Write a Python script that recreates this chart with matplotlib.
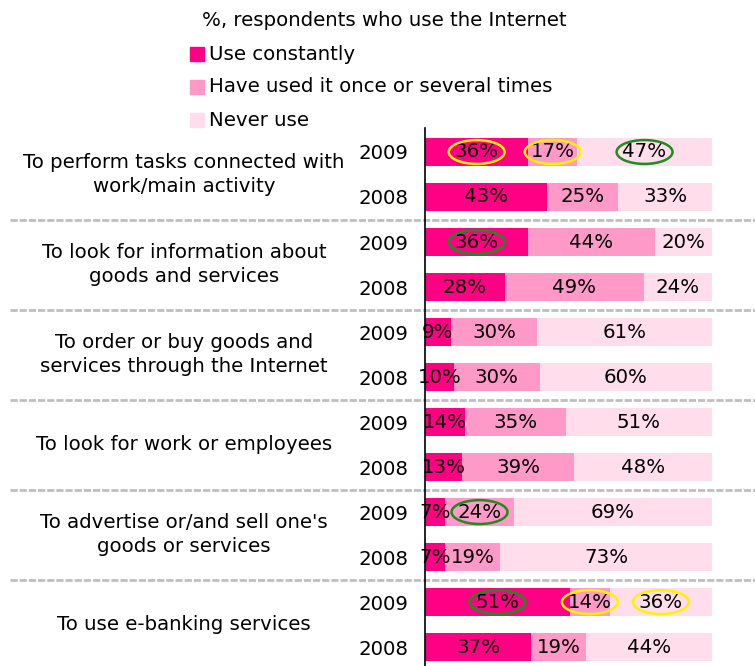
import matplotlib.pyplot as plt
from matplotlib.patches import Ellipse, Rectangle

FS = 14.2

categories = [
    "To perform tasks connected with\nwork/main activity",
    "To look for information about\ngoods and services",
    "To order or buy goods and\nservices through the Internet",
    "To look for work or employees",
    "To advertise or/and sell one's\ngoods or services",
    "To use e-banking services",
]
years = ["2009", "2008"]
series = ["Use constantly", "Have used it once or several times", "Never use"]
colours = ["#FF0084", "#FF99C8", "#FFDDEB"]

# rows in order: cat1 2009, cat1 2008, cat2 2009, ...
use_constantly = [36, 43, 36, 28, 9, 10, 14, 13, 7, 7, 51, 37]
used_once = [17, 25, 44, 49, 30, 30, 35, 39, 24, 19, 14, 19]
never_use = [47, 33, 20, 24, 61, 60, 51, 48, 69, 73, 36, 44]

# circled labels: (row, segment, colour)
marks = [(0, 0, "#FFF200"), (0, 1, "#FFF200"), (0, 2, "#1E8C1E"),
         (2, 0, "#1E8C1E"), (8, 1, "#1E8C1E"), (10, 0, "#1E8C1E"),
         (10, 1, "#FFF200"), (10, 2, "#FFF200")]

W, H = 755, 666
fig = plt.figure(figsize=(W / 100, H / 100), dpi=100)
ax = fig.add_axes([425 / W, 0, 287 / W, 538 / H])

n = len(use_constantly)
rows = list(range(n))
vals = [use_constantly, used_once, never_use]
totals = [sum(v[i] for v in vals) for i in rows]
left = [0.0] * n
centres = []
for v, c in zip(vals, colours):
    w = [v[i] * 100 / totals[i] for i in rows]
    ax.barh(rows, w, left=left, height=0.64, color=c, linewidth=0)
    cen = [left[i] + w[i] / 2 for i in rows]
    centres.append(cen)
    for i in rows:
        ax.text(cen[i], i, f"{v[i]}%", ha="center", va="center", fontsize=FS)
    left = [left[i] + w[i] for i in rows]

for r, s, c in marks:
    ax.add_patch(Ellipse((centres[s][r], r), 19.5, 0.53, fill=False,
                         edgecolor=c, linewidth=1.8, zorder=5))

ax.set_xlim(0, 100)
ax.set_ylim(11.42, -0.533)
ax.set_yticks(rows)
ax.set_yticklabels(years * len(categories), fontsize=FS)
ax.tick_params(axis="y", length=0, pad=12)
ax.set_xticks([])
for sp in ["top", "right", "bottom"]:
    ax.spines[sp].set_visible(False)
ax.spines["left"].set_linewidth(1.2)

# dashed separators between groups
for g in range(1, len(categories)):
    ax.axhline(2 * g - 0.5, xmin=-1.446, xmax=1.16, color="#BFBFBF",
               linewidth=2, dashes=(2.6, 0.7), clip_on=False)

for g, cat in enumerate(categories):
    ax.text(-241 / 2.87, 2 * g + 0.5, cat, ha="center", va="center",
            fontsize=FS, linespacing=1.3)

fig.text(202 / W, 1 - 20 / H, "%, respondents who use the Internet",
         fontsize=FS, va="center")
for k, (lab, c) in enumerate(zip(series, colours)):
    y = 54 + k * 33
    fig.patches.append(Rectangle((190 / W, 1 - (y + 7) / H), 14 / W, 14 / H,
                                 transform=fig.transFigure, color=c))
    fig.text(209 / W, 1 - y / H, lab, fontsize=FS, va="center")

fig.savefig("out.png", dpi=100)
